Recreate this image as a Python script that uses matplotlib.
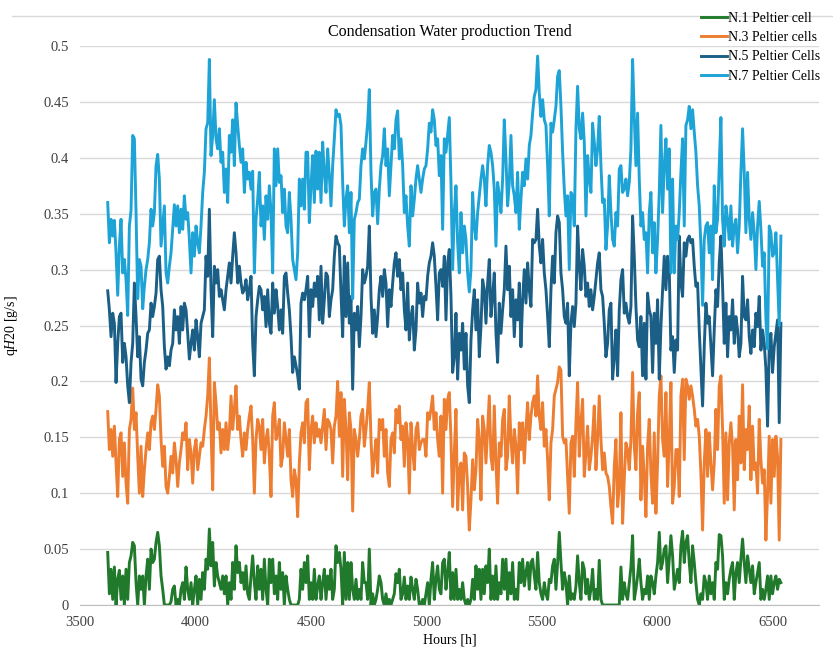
import numpy as np
import matplotlib
matplotlib.use("Agg")
import matplotlib.pyplot as plt
from matplotlib.lines import Line2D

plt.rcParams['font.family'] = ['Liberation Serif', 'DejaVu Serif']
plt.rcParams['mathtext.fontset'] = 'custom'
plt.rcParams['mathtext.rm'] = 'Liberation Serif'
plt.rcParams['mathtext.it'] = 'Liberation Serif:italic'

# one reading about every 7.2 h
hours = np.linspace(3620, 6535, 405)

n1_cell = [
    0.047, 0.010, 0.032, 0.005, 0.034, 0.000, 0.023, 0.031, 0.005, 0.026,
    0.000, 0.032, 0.005, 0.038, 0.044, 0.056, 0.053, 0.020, 0.000, 0.026,
    0.014, 0.026, 0.000, 0.026, 0.041, 0.014, 0.050, 0.038, 0.041, 0.056,
    0.065, 0.053, 0.026, 0.014, 0.000, 0.000, 0.000, 0.000, 0.003, 0.014,
    0.017, 0.000, 0.005, 0.000, 0.014, 0.020, 0.005, 0.034, 0.014, 0.005,
    0.020, 0.000, 0.014, 0.026, 0.000, 0.023, 0.005, 0.029, 0.014, 0.041,
    0.032, 0.068, 0.035, 0.056, 0.017, 0.038, 0.026, 0.020, 0.014, 0.026,
    0.010, 0.026, 0.000, 0.020, 0.005, 0.038, 0.014, 0.053, 0.029, 0.038,
    0.020, 0.029, 0.014, 0.035, 0.010, 0.005, 0.026, 0.044, 0.020, 0.005,
    0.035, 0.014, 0.032, 0.005, 0.041, 0.014, 0.000, 0.041, 0.020, 0.041,
    0.010, 0.026, 0.005, 0.038, 0.014, 0.029, 0.000, 0.026, 0.014, 0.005,
    0.000, 0.000, 0.000, 0.000, 0.000, 0.005, 0.032, 0.014, 0.038, 0.020,
    0.044, 0.005, 0.020, 0.005, 0.032, 0.005, 0.017, 0.026, 0.005, 0.020,
    0.032, 0.005, 0.026, 0.014, 0.032, 0.005, 0.014, 0.053, 0.038,
    0.047, 0.032, 0.000, 0.047, 0.005, 0.038, 0.005, 0.038, 0.014, 0.005,
    0.023, 0.005, 0.014, 0.005, 0.038, 0.020, 0.020, 0.005, 0.050, 0.000,
    0.010, 0.000, 0.005, 0.014, 0.026, 0.020, 0.005, 0.000, 0.010, 0.000,
    0.005, 0.000, 0.005, 0.010, 0.028, 0.020, 0.032, 0.005, 0.010, 0.025,
    0.005, 0.017, 0.005, 0.025, 0.014, 0.005, 0.023, 0.014, 0.000, 0.000,
    0.005, 0.000, 0.010, 0.020, 0.000, 0.023, 0.038, 0.005, 0.023, 0.035,
    0.014, 0.010, 0.038, 0.041, 0.014, 0.029, 0.047, 0.005, 0.029, 0.005,
    0.032, 0.005, 0.014, 0.005, 0.020, 0.005, 0.000, 0.005, 0.000, 0.005,
    0.023, 0.005, 0.035, 0.014, 0.032, 0.005, 0.032, 0.010, 0.035, 0.020,
    0.050, 0.005, 0.026, 0.005, 0.035, 0.005, 0.020, 0.010, 0.041, 0.014,
    0.041, 0.005, 0.029, 0.010, 0.038, 0.005, 0.014, 0.005, 0.038, 0.020,
    0.041, 0.017, 0.029, 0.038, 0.014, 0.038, 0.041, 0.026, 0.014, 0.047,
    0.020, 0.010, 0.005, 0.020, 0.010, 0.005, 0.023, 0.020, 0.035, 0.041,
    0.014, 0.038, 0.065, 0.038, 0.014, 0.029,
    0.020, 0.000, 0.026, 0.005, 0.010, 0.005, 0.017, 0.044, 0.020, 0.005,
    0.038, 0.032, 0.010, 0.023, 0.005, 0.014, 0.032, 0.005, 0.014, 0.005,
    0.040, 0.005, 0.000, 0.000, 0.000, 0.000, 0.000, 0.000, 0.000, 0.000,
    0.000, 0.000, 0.000, 0.034, 0.005, 0.020, 0.010, 0.005, 0.020, 0.034,
    0.062, 0.005, 0.014, 0.026, 0.041, 0.020, 0.005, 0.014, 0.010, 0.026,
    0.005, 0.026, 0.020, 0.010, 0.026, 0.038, 0.065, 0.032, 0.038, 0.050,
    0.053, 0.020, 0.041, 0.062, 0.044, 0.014, 0.023, 0.032, 0.020, 0.053,
    0.066, 0.038, 0.056, 0.062, 0.038, 0.020, 0.053, 0.038, 0.020, 0.005,
    0.000, 0.010, 0.005, 0.026, 0.020, 0.005, 0.026, 0.010, 0.020, 0.005,
    0.038, 0.032, 0.063, 0.062, 0.044, 0.005, 0.020, 0.010, 0.023, 0.032,
    0.038, 0.005, 0.029, 0.038, 0.020, 0.041, 0.059, 0.038, 0.020, 0.044,
    0.032, 0.020, 0.035, 0.010, 0.020, 0.029, 0.038, 0.005, 0.014, 0.005,
    0.014, 0.026, 0.005, 0.026, 0.010, 0.020, 0.026, 0.014, 0.023, 0.020,
]

n3_cells = [
    0.173, 0.139, 0.157, 0.133, 0.160, 0.127, 0.097, 0.148, 0.154, 0.115,
    0.145, 0.109, 0.091, 0.157, 0.166, 0.194, 0.157, 0.172, 0.133, 0.100,
    0.142, 0.097, 0.121, 0.139, 0.154, 0.139, 0.163, 0.169, 0.157, 0.175,
    0.197, 0.187, 0.148, 0.124, 0.142, 0.106, 0.100, 0.115, 0.133, 0.118,
    0.145, 0.130, 0.106, 0.127, 0.139, 0.154, 0.148, 0.163, 0.121, 0.148,
    0.136, 0.109, 0.139, 0.148, 0.121, 0.133, 0.145, 0.142, 0.157, 0.169,
    0.187, 0.221, 0.157, 0.103, 0.199, 0.181, 0.157, 0.163, 0.136, 0.157,
    0.139, 0.163, 0.139, 0.154, 0.187, 0.157, 0.175, 0.196, 0.157, 0.169,
    0.148, 0.133, 0.154, 0.139, 0.157, 0.169, 0.178, 0.148, 0.100, 0.148,
    0.166, 0.160, 0.139, 0.166, 0.127, 0.148, 0.157, 0.133, 0.097, 0.169,
    0.181, 0.148, 0.154, 0.166, 0.124, 0.133, 0.163, 0.148, 0.133, 0.157,
    0.112, 0.097, 0.121, 0.112, 0.079, 0.127, 0.154, 0.163, 0.145, 0.181,
    0.184, 0.121, 0.157, 0.169, 0.145, 0.163, 0.151, 0.157, 0.145, 0.160,
    0.175, 0.139, 0.166, 0.163, 0.157, 0.127, 0.160, 0.169, 0.200,
    0.151, 0.190, 0.115, 0.184, 0.157, 0.112, 0.172, 0.157, 0.084, 0.157,
    0.148, 0.133, 0.148, 0.169, 0.175, 0.142, 0.157, 0.175, 0.199, 0.148,
    0.115, 0.133, 0.148, 0.118, 0.166, 0.157, 0.166, 0.133, 0.157, 0.118,
    0.106, 0.148, 0.154, 0.136, 0.175, 0.163, 0.178, 0.148, 0.160, 0.124,
    0.163, 0.148, 0.100, 0.163, 0.139, 0.121, 0.157, 0.163, 0.139, 0.145,
    0.148, 0.148, 0.133, 0.172, 0.166, 0.175, 0.187, 0.157, 0.172, 0.148,
    0.133, 0.169, 0.100, 0.184, 0.157, 0.184, 0.190, 0.148, 0.088, 0.136,
    0.175, 0.085, 0.121, 0.127, 0.085, 0.136, 0.133, 0.106, 0.067, 0.094,
    0.130, 0.103, 0.121, 0.166, 0.148, 0.094, 0.169, 0.157, 0.127, 0.157,
    0.187, 0.133, 0.121, 0.178, 0.127, 0.091, 0.145, 0.133, 0.166, 0.175,
    0.121, 0.133, 0.187, 0.148, 0.127, 0.157, 0.142, 0.100, 0.163, 0.139,
    0.163, 0.127, 0.157, 0.181, 0.148, 0.169, 0.181, 0.187, 0.169, 0.205,
    0.169, 0.157, 0.181, 0.142, 0.157, 0.130, 0.094, 0.145, 0.157, 0.187,
    0.193, 0.199, 0.213, 0.210, 0.151, 0.145,
    0.148, 0.115, 0.082, 0.145, 0.151, 0.115, 0.163, 0.199, 0.133, 0.163,
    0.184, 0.115, 0.136, 0.160, 0.121, 0.133, 0.151, 0.178, 0.121, 0.148,
    0.187, 0.148, 0.121, 0.136, 0.118, 0.115, 0.106, 0.088, 0.073, 0.124,
    0.148, 0.088, 0.106, 0.172, 0.073, 0.112, 0.145, 0.139, 0.121, 0.148,
    0.208, 0.142, 0.121, 0.172, 0.190, 0.094, 0.142, 0.115, 0.079, 0.142,
    0.166, 0.118, 0.091, 0.154, 0.082, 0.127, 0.187, 0.205, 0.148, 0.133,
    0.190, 0.106, 0.148, 0.199, 0.091, 0.106, 0.139, 0.139, 0.097, 0.187,
    0.202, 0.130, 0.202, 0.196, 0.184, 0.196, 0.187, 0.175, 0.160, 0.166,
    0.151, 0.118, 0.067, 0.127, 0.157, 0.115, 0.154, 0.127, 0.103, 0.127,
    0.175, 0.139, 0.196, 0.205, 0.157, 0.091, 0.154, 0.094, 0.145, 0.163,
    0.142, 0.085, 0.148, 0.112, 0.169, 0.127, 0.197, 0.121, 0.157, 0.139,
    0.178, 0.112, 0.160, 0.121, 0.127, 0.100, 0.166, 0.130, 0.109, 0.121,
    0.058, 0.100, 0.151, 0.091, 0.148, 0.115, 0.151, 0.133, 0.058, 0.148,
]

n5_cells = [
    0.281, 0.264, 0.240, 0.261, 0.252, 0.199, 0.234, 0.258, 0.261, 0.217,
    0.234, 0.222, 0.196, 0.181, 0.217, 0.234, 0.288, 0.258, 0.222, 0.240,
    0.202, 0.196, 0.217, 0.228, 0.243, 0.246, 0.270, 0.258, 0.267, 0.279,
    0.309, 0.312, 0.282, 0.267, 0.231, 0.211, 0.222, 0.214, 0.228, 0.234,
    0.264, 0.246, 0.258, 0.234, 0.267, 0.246, 0.270, 0.264, 0.243, 0.220,
    0.234, 0.246, 0.228, 0.255, 0.240, 0.222, 0.252, 0.258, 0.264, 0.312,
    0.294, 0.354, 0.282, 0.240, 0.303, 0.288, 0.300, 0.276, 0.282, 0.273,
    0.264, 0.282, 0.294, 0.306, 0.288, 0.312, 0.333, 0.315, 0.288, 0.303,
    0.288, 0.279, 0.282, 0.291, 0.273, 0.282, 0.294, 0.234, 0.205, 0.258,
    0.273, 0.285, 0.282, 0.264, 0.276, 0.249, 0.282, 0.252, 0.243, 0.288,
    0.261, 0.282, 0.267, 0.246, 0.264, 0.243, 0.294, 0.297, 0.279, 0.264,
    0.240, 0.208, 0.222, 0.214, 0.205, 0.193, 0.270, 0.279, 0.273, 0.282,
    0.294, 0.240, 0.282, 0.267, 0.288, 0.276, 0.294, 0.255, 0.303, 0.252,
    0.273, 0.297, 0.294, 0.258, 0.273, 0.282, 0.312, 0.330, 0.324,
    0.321, 0.279, 0.240, 0.312, 0.258, 0.306, 0.252, 0.276, 0.193, 0.261,
    0.246, 0.267, 0.231, 0.258, 0.300, 0.288, 0.294, 0.303, 0.339, 0.276,
    0.243, 0.264, 0.240, 0.258, 0.282, 0.294, 0.276, 0.300, 0.288, 0.249,
    0.282, 0.267, 0.288, 0.306, 0.315, 0.294, 0.309, 0.282, 0.297, 0.264,
    0.246, 0.288, 0.237, 0.258, 0.267, 0.228, 0.246, 0.288, 0.270, 0.279,
    0.258, 0.276, 0.273, 0.294, 0.306, 0.312, 0.324, 0.312, 0.285, 0.255,
    0.297, 0.300, 0.285, 0.312, 0.255, 0.306, 0.318, 0.276, 0.208, 0.222,
    0.261, 0.202, 0.243, 0.228, 0.252, 0.211, 0.243, 0.196, 0.181, 0.237,
    0.264, 0.282, 0.246, 0.273, 0.222, 0.249, 0.291, 0.282, 0.252, 0.288,
    0.309, 0.258, 0.276, 0.297, 0.243, 0.217, 0.270, 0.243, 0.264, 0.282,
    0.321, 0.282, 0.303, 0.258, 0.282, 0.240, 0.273, 0.255, 0.288, 0.231,
    0.273, 0.300, 0.270, 0.306, 0.282, 0.267, 0.327, 0.324, 0.327, 0.354,
    0.321, 0.306, 0.327, 0.297, 0.282, 0.258, 0.231, 0.282, 0.312, 0.288,
    0.333, 0.348, 0.342, 0.297, 0.282, 0.258,
    0.252, 0.270, 0.205, 0.252, 0.267, 0.249, 0.270, 0.339, 0.303, 0.282,
    0.318, 0.303, 0.276, 0.288, 0.267, 0.282, 0.264, 0.276, 0.291, 0.306,
    0.315, 0.282, 0.276, 0.252, 0.222, 0.234, 0.264, 0.270, 0.202, 0.222,
    0.246, 0.205, 0.264, 0.291, 0.300, 0.261, 0.270, 0.258, 0.252, 0.267,
    0.348, 0.312, 0.267, 0.237, 0.231, 0.258, 0.205, 0.252, 0.202, 0.279,
    0.264, 0.258, 0.208, 0.261, 0.234, 0.273, 0.202, 0.249, 0.282, 0.312,
    0.282, 0.312, 0.300, 0.228, 0.240, 0.208, 0.237, 0.228, 0.330, 0.288,
    0.276, 0.324, 0.312, 0.327, 0.330, 0.324, 0.327, 0.303, 0.285, 0.288,
    0.246, 0.211, 0.178, 0.231, 0.270, 0.252, 0.258, 0.231, 0.205, 0.246,
    0.282, 0.267, 0.306, 0.330, 0.285, 0.234, 0.270, 0.222, 0.258, 0.246,
    0.273, 0.234, 0.258, 0.246, 0.222, 0.234, 0.294, 0.258, 0.255, 0.273,
    0.240, 0.225, 0.246, 0.231, 0.261, 0.249, 0.276, 0.228, 0.246, 0.234,
    0.211, 0.160, 0.231, 0.243, 0.208, 0.231, 0.243, 0.255, 0.163, 0.252,
]

n7_cells = [
    0.360, 0.324, 0.345, 0.330, 0.344, 0.315, 0.277, 0.321, 0.345, 0.297,
    0.309, 0.291, 0.259, 0.339, 0.353, 0.420, 0.417, 0.351, 0.274, 0.309,
    0.303, 0.265, 0.285, 0.300, 0.309, 0.324, 0.354, 0.339, 0.351, 0.393,
    0.403, 0.381, 0.321, 0.339, 0.357, 0.297, 0.288, 0.303, 0.315, 0.336,
    0.358, 0.339, 0.357, 0.333, 0.354, 0.336, 0.366, 0.345, 0.351, 0.327,
    0.297, 0.333, 0.312, 0.339, 0.324, 0.315, 0.339, 0.369, 0.387, 0.426,
    0.431, 0.488, 0.402, 0.420, 0.452, 0.417, 0.408, 0.426, 0.396, 0.405,
    0.369, 0.390, 0.360, 0.420, 0.405, 0.434, 0.393, 0.449, 0.429, 0.411,
    0.396, 0.408, 0.369, 0.396, 0.381, 0.387, 0.372, 0.388, 0.297, 0.345,
    0.363, 0.387, 0.339, 0.357, 0.327, 0.366, 0.345, 0.375, 0.351, 0.297,
    0.408, 0.375, 0.408, 0.378, 0.384, 0.351, 0.372, 0.339, 0.333, 0.369,
    0.345, 0.309, 0.300, 0.291, 0.315, 0.381, 0.357, 0.381, 0.354, 0.405,
    0.405, 0.342, 0.375, 0.402, 0.360, 0.406, 0.372, 0.405, 0.360, 0.414,
    0.387, 0.369, 0.408, 0.384, 0.357, 0.393, 0.417, 0.443, 0.437,
    0.439, 0.429, 0.378, 0.339, 0.363, 0.375, 0.333, 0.369, 0.274, 0.345,
    0.351, 0.360, 0.363, 0.393, 0.408, 0.399, 0.414, 0.431, 0.461, 0.387,
    0.348, 0.369, 0.372, 0.341, 0.372, 0.393, 0.402, 0.426, 0.393, 0.408,
    0.366, 0.393, 0.420, 0.408, 0.434, 0.442, 0.399, 0.417, 0.393, 0.351,
    0.366, 0.339, 0.321, 0.375, 0.348, 0.363, 0.381, 0.393, 0.381, 0.369,
    0.381, 0.390, 0.393, 0.408, 0.431, 0.423, 0.443, 0.434, 0.411, 0.417,
    0.384, 0.402, 0.336, 0.417, 0.405, 0.420, 0.436, 0.378, 0.300, 0.351,
    0.375, 0.324, 0.297, 0.351, 0.315, 0.339, 0.327, 0.297, 0.280, 0.300,
    0.369, 0.339, 0.327, 0.351, 0.366, 0.381, 0.393, 0.381, 0.357, 0.393,
    0.411, 0.405, 0.393, 0.372, 0.321, 0.378, 0.366, 0.351, 0.381, 0.434,
    0.399, 0.357, 0.378, 0.420, 0.375, 0.366, 0.351, 0.387, 0.336, 0.363,
    0.387, 0.375, 0.399, 0.381, 0.411, 0.420, 0.440, 0.455, 0.461, 0.491,
    0.458, 0.437, 0.452, 0.434, 0.429, 0.393, 0.348, 0.431, 0.423, 0.434,
    0.446, 0.473, 0.478, 0.446, 0.405, 0.372,
    0.348, 0.366, 0.300, 0.369, 0.366, 0.339, 0.426, 0.464, 0.426, 0.417,
    0.440, 0.414, 0.348, 0.402, 0.381, 0.369, 0.431, 0.414, 0.393, 0.408,
    0.437, 0.393, 0.360, 0.363, 0.318, 0.339, 0.384, 0.351, 0.327, 0.321,
    0.351, 0.339, 0.390, 0.393, 0.369, 0.372, 0.381, 0.366, 0.378, 0.408,
    0.488, 0.437, 0.393, 0.440, 0.381, 0.339, 0.351, 0.327, 0.333, 0.297,
    0.351, 0.369, 0.315, 0.342, 0.297, 0.327, 0.369, 0.429, 0.351, 0.393,
    0.417, 0.372, 0.408, 0.297, 0.381, 0.297, 0.339, 0.327, 0.351, 0.387,
    0.417, 0.339, 0.429, 0.434, 0.446, 0.426, 0.443, 0.423, 0.405, 0.375,
    0.357, 0.321, 0.268, 0.327, 0.339, 0.342, 0.315, 0.339, 0.291, 0.375,
    0.333, 0.345, 0.393, 0.436, 0.345, 0.321, 0.357, 0.345, 0.327, 0.357,
    0.321, 0.339, 0.345, 0.315, 0.339, 0.387, 0.426, 0.387, 0.333, 0.387,
    0.345, 0.327, 0.351, 0.333, 0.300, 0.339, 0.361, 0.336, 0.303, 0.315,
    0.256, 0.229, 0.339, 0.333, 0.312, 0.315, 0.333, 0.291, 0.250, 0.330,
]

labels = ['N.1 Peltier cell', 'N.3 Peltier cells', 'N.5 Peltier Cells', 'N.7 Peltier Cells']
colors = ['#217a2c', '#ed7d31', '#1b5f87', '#1ea3d6']

fig = plt.figure(figsize=(8.33, 6.48), dpi=100)
ax = fig.add_axes([80 / 833, 1 - 605 / 648, 739 / 833, 559 / 648])

for ys, lab, col in zip([n1_cell, n3_cells, n5_cells, n7_cells], labels, colors):
    ax.plot(hours, ys, color=col, lw=2.1, label=lab, solid_joinstyle='round')

ax.set_xlim(3500, 6700)
ax.set_ylim(0, 0.5)
ax.set_xticks(np.arange(3500, 6501, 500))
yt = np.round(np.arange(0, 0.501, 0.05), 2)
ax.set_yticks(yt)
ax.set_yticklabels(['0' if v == 0 else f'{v:g}' for v in yt])
ax.tick_params(length=0, labelsize=10.5, colors='#404040', pad=8)
ax.grid(axis='y', color='#d9d9d9', lw=1)
ax.set_axisbelow(True)
for s in ['top', 'right', 'left']:
    ax.spines[s].set_visible(False)
ax.spines['bottom'].set_color('#bfbfbf')

ax.set_title('Condensation Water production Trend', fontsize=11.5, pad=7)
ax.set_xlabel('Hours [h]', fontsize=10, labelpad=3)
ax.set_ylabel(r'q$\mathit{H20}$ [g/s]', fontsize=10, labelpad=17)

fig.legend(loc='upper left', bbox_to_anchor=(701 / 833, 1 - 12 / 648), frameon=False,
           fontsize=10, handlelength=1.9, handletextpad=0.05, labelspacing=0.45,
           borderaxespad=0, borderpad=0)

# thin rule along the top edge
fig.add_artist(Line2D([12 / 833, 1], [1 - 16 / 648] * 2, color='#d9d9d9', lw=1))

fig.savefig('out.png', dpi=100)
